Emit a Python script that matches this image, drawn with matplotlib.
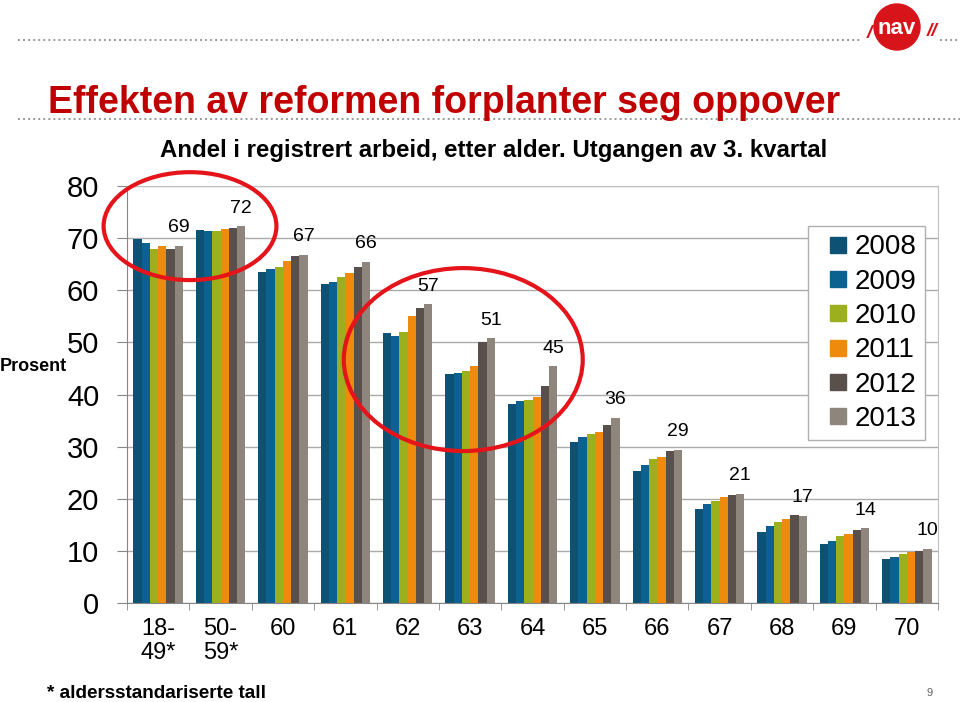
import matplotlib
matplotlib.use('Agg')
import matplotlib.pyplot as plt
import numpy as np
from matplotlib.patches import Ellipse, Circle
from matplotlib.lines import Line2D

plt.rcParams['font.family'] = ['Liberation Sans', 'DejaVu Sans']

# aldersgrupper og år
kategorier = ['18-\n49*', '50-\n59*', '60', '61', '62', '63', '64', '65', '66', '67', '68', '69', '70']
aar = ['2008', '2009', '2010', '2011', '2012', '2013']

# andel i registrert arbeid (prosent), lest av figuren
v2008 = [69.8, 71.5, 63.5, 61.2, 51.8, 43.9, 38.2, 30.9, 25.4, 18.0, 13.6, 11.3, 8.5]
v2009 = [69.0, 71.3, 64.1, 61.5, 51.3, 44.2, 38.7, 31.9, 26.5, 18.9, 14.8, 11.8, 8.8]
v2010 = [68.0, 71.3, 64.5, 62.6, 52.0, 44.6, 39.0, 32.5, 27.6, 19.5, 15.6, 12.9, 9.4]
v2011 = [68.5, 71.8, 65.7, 63.3, 55.1, 45.4, 39.6, 32.9, 28.0, 20.4, 16.2, 13.3, 9.7]
v2012 = [68.0, 72.0, 66.5, 64.4, 56.5, 50.1, 41.7, 34.2, 29.1, 20.7, 16.8, 14.1, 9.9]
v2013 = [68.5, 72.3, 66.8, 65.5, 57.3, 50.8, 45.4, 35.5, 29.4, 21.0, 16.7, 14.3, 10.4]
etiketter = ['69', '72', '67', '66', '57', '51', '45', '36', '29', '21', '17', '14', '10']

serier = [v2008, v2009, v2010, v2011, v2012, v2013]
farger = ['#0D5274', '#0B6190', '#9CAF1C', '#EE8A0C', '#5A504B', '#8E857C']

fig = plt.figure(figsize=(9.6, 7.02), dpi=100)

# bakgrunnslag i piksler: prikkete linjer og logo
ov = fig.add_axes([0, 0, 1, 1])
ov.set_xlim(0, 960)
ov.set_ylim(702, 0)
ov.axis('off')
dot = dict(color='#9A9A9A', lw=1.4, linestyle=(0, (1, 1.6)))
ov.plot([18, 862], [40, 40], **dot)
ov.plot([940, 960], [40, 40], **dot)
ov.plot([18, 960], [119, 119], **dot)
ov.add_patch(Circle((897, 27), 23, color='#D8141B', zorder=3))
ov.text(897, 29, 'nav', color='white', fontsize=16, fontweight='bold',
        ha='center', va='center', zorder=4)
ov.text(869, 34, '/', color='#D8141B', fontsize=14, fontweight='bold', style='italic',
        ha='center', va='center')
ov.text(932, 32, '//', color='#D8141B', fontsize=14, fontweight='bold', style='italic',
        ha='center', va='center')

# diagrammet
ax = fig.add_axes([127 / 960, 99 / 702, 811 / 960, 417 / 702])
x = np.arange(len(kategorier))
w = 0.132
for i, (s, c) in enumerate(zip(serier, farger)):
    ax.bar(x + (i - 2.5) * w, s, width=w, color=c, label=aar[i], zorder=2)

for xi, yi, t in zip(x + 2.5 * w, v2013, etiketter):
    ax.annotate(t, (xi, yi), xytext=(0, 13), textcoords='offset points',
                ha='center', va='center', fontsize=14)

ax.set_xlim(-0.5, len(kategorier) - 0.5)
ax.set_ylim(0, 80)
ax.set_yticks(range(0, 81, 10))
ax.yaxis.grid(True, color='#ABABAB', lw=1, zorder=0)
ax.tick_params(axis='y', labelsize=21, length=7, color='#868686', pad=13)
ax.set_xticks(x)
ax.set_xticklabels(kategorier, fontsize=17, linespacing=1.1)
ax.set_xticks(np.arange(-0.5, len(kategorier), 1), minor=True)
ax.tick_params(axis='x', which='major', length=0, pad=11)
ax.tick_params(axis='x', which='minor', length=5, color='#868686')
for side in ['left', 'bottom']:
    ax.spines[side].set_color('#868686')
for side in ['top', 'right']:
    ax.spines[side].set_color('#C0C0C0')

# røde ringer
ax.add_patch(Ellipse((0.51, 72.3), 2.77, 20.7, fill=False, ec='#E5141B', lw=3, clip_on=False, zorder=5))
ax.add_patch(Ellipse((4.89, 46.7), 3.83, 35.1, fill=False, ec='#E5141B', lw=3, clip_on=False, zorder=5))

handles = [Line2D([], [], marker='s', ls='none', markersize=11, color=c) for c in farger]
leg = ax.legend(handles, aar, loc='upper right', bbox_to_anchor=(0.984, 0.904), borderaxespad=0,
                fontsize=20, fancybox=False, edgecolor='#B0B0B0', framealpha=1,
                borderpad=0.3, handlelength=1.6, handletextpad=-0.2, labelspacing=0.3)
leg.get_frame().set_linewidth(1)

# tekster
fig.text(48 / 960, 1 - 113 / 702, 'Effekten av reformen forplanter seg oppover', color='#C00000',
         fontsize=27, fontweight='bold', va='baseline', ha='left')
fig.text(160 / 960, 1 - 157 / 702, 'Andel i registrert arbeid, etter alder. Utgangen av 3. kvartal',
         fontsize=17.3, fontweight='bold', va='baseline', ha='left')
fig.text(0, 1 - 367 / 702, 'Prosent', fontsize=13, fontweight='bold', va='center', ha='left')
fig.text(47 / 960, 1 - 698 / 702, '* aldersstandariserte tall', fontsize=13.6, fontweight='bold',
         va='baseline', ha='left')
fig.text(930 / 960, 1 - 693 / 702, '9', fontsize=8, color='#606060', va='center', ha='center')

fig.savefig('out.png', dpi=100)
